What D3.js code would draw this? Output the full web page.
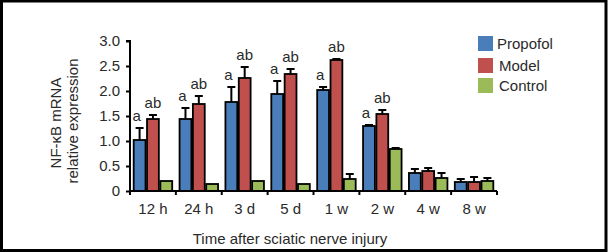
<!DOCTYPE html>
<html><head><meta charset="utf-8">
<script src="https://cdn.jsdelivr.net/npm/d3@7"></script>
<style>html,body{margin:0;padding:0;background:#fff;}svg{display:block;font-family:"Liberation Sans",Arial,sans-serif;}</style>
</head><body>
<svg id="c" width="608" height="252"></svg>
<script>
const categories = ["12 h","24 h","3 d","5 d","1 w","2 w","4 w","8 w"];
const seriesNames = ["Propofol","Model","Control"];
const propofol = [1.02,1.44,1.78,1.94,2.02,1.30,0.36,0.18];
const propofolErr = [0.24,0.22,0.30,0.26,0.06,0.02,0.08,0.06];
const model = [1.44,1.74,2.26,2.34,2.62,1.54,0.40,0.18];
const modelErr = [0.08,0.16,0.22,0.10,0.02,0.08,0.06,0.10];
const control = [0.20,0.14,0.20,0.14,0.24,0.84,0.26,0.20];
const controlErr = [0.00,0.00,0.00,0.00,0.10,0.02,0.10,0.06];
const propofolSig = ["a","a","a","a","a","a","",""];
const modelSig = ["ab","ab","ab","ab","ab","ab","",""];
const yTicks = [0,0.5,1.0,1.5,2.0,2.5,3.0];
const colors = ["#4a7ebb","#c0504d","#9bbb59"];

(function(){
const FS = 15, TC = "#2a2a2a";
const svg = d3.select("#c");
svg.append("rect").attr("x",1.5).attr("y",1).attr("width",604.5).attr("height",249.5)
  .attr("fill","none").attr("stroke","#000").attr("stroke-width",3);

const pL=130, pR=497, pT=41, pB=191;
const x = d3.scaleBand().domain(categories).range([pL,pR]).paddingInner(0).paddingOuter(0);
const y = d3.scaleLinear().domain([0,3]).range([pB,pT]);
const inner = d3.scaleBand().domain(seriesNames).range([0,x.bandwidth()]).paddingInner(0).paddingOuter(0.22);

const series = [
  {name:"Propofol", v:propofol, e:propofolErr, sig:propofolSig},
  {name:"Model", v:model, e:modelErr, sig:modelSig},
  {name:"Control", v:control, e:controlErr, sig:null}
];

series.forEach((s,si)=>{
  const g = svg.append("g");
  categories.forEach((c,i)=>{
    const bx = x(c)+inner(s.name);
    const bw = inner.bandwidth();
    const et = y(s.v[i]+s.e[i]);
    const cx = bx+bw/2;
    if(s.e[i]>0){
      g.append("line").attr("x1",cx).attr("x2",cx).attr("y1",y(s.v[i])).attr("y2",et).attr("stroke","#000").attr("stroke-width",2);
      g.append("line").attr("x1",cx-4).attr("x2",cx+4).attr("y1",et).attr("y2",et).attr("stroke","#000").attr("stroke-width",2);
    }
    g.append("rect").attr("x",bx+0.75).attr("y",y(s.v[i])).attr("width",bw-1.5).attr("height",y(0)-y(s.v[i]))
      .attr("fill",colors[si]).attr("stroke","#000").attr("stroke-width",1.8);
    if(s.sig && s.sig[i]){
      g.append("text").attr("x",si===0?cx-3:cx).attr("y",et-7).attr("text-anchor","middle")
        .attr("font-size",FS).attr("fill",TC).text(s.sig[i]);
    }
  });
});

const yAxis = d3.axisLeft(y).tickValues(yTicks).tickSize(4).tickPadding(6)
  .tickFormat(d=>d===0?"0":d3.format(".1f")(d));
const ya = svg.append("g").attr("transform",`translate(${pL},0)`).call(yAxis);
ya.select(".domain").attr("stroke-width",2).attr("d",`M-4,${pT}H0V${pB}`);
ya.selectAll(".tick line").attr("stroke-width",2);
ya.selectAll("text").attr("font-size",FS).attr("fill",TC).style("font-family","Liberation Sans, Arial, sans-serif");

const xa = svg.append("g").attr("transform",`translate(0,${pB})`).call(d3.axisBottom(x).tickSize(0).tickPadding(12));
xa.select(".domain").attr("stroke-width",2).attr("d",`M${pL},0H${pR}`);
xa.selectAll("text").attr("font-size",FS).attr("fill",TC).style("font-family","Liberation Sans, Arial, sans-serif");
const bounds = categories.map(c=>x(c)).concat([pR]);
xa.selectAll(".bt").data(bounds).enter().append("line").attr("class","bt")
  .attr("x1",d=>d).attr("x2",d=>d).attr("y1",0).attr("y2",4).attr("stroke","#000").attr("stroke-width",2);

svg.append("text").attr("transform","translate(55,123) rotate(-90)").attr("text-anchor","middle")
  .attr("dominant-baseline","central").attr("font-size",FS).attr("fill",TC).text("NF-κB mRNA");
svg.append("text").attr("transform","translate(72,121) rotate(-90)").attr("text-anchor","middle")
  .attr("dominant-baseline","central").attr("font-size",FS).attr("fill",TC).text("relative expression");
svg.append("text").attr("x",290).attr("y",244).attr("text-anchor","middle").attr("font-size",FS).attr("fill",TC)
  .text("Time after sciatic nerve injury");

const lg = svg.append("g");
seriesNames.forEach((n,i)=>{
  const yy = [36,58,78][i];
  lg.append("rect").attr("x",478).attr("y",yy).attr("width",15).attr("height",15).attr("fill",colors[i]);
  lg.append("text").attr("x",i===0?497:499).attr("y",yy+7.5).attr("dominant-baseline","central")
    .attr("font-size",FS).attr("fill",TC).text(n);
});
})();
</script>
</body></html>
